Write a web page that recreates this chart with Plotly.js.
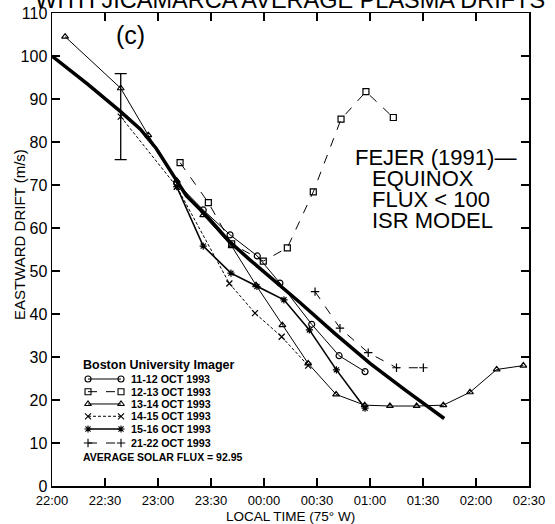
<!DOCTYPE html>
<html>
<head>
<meta charset="utf-8">
<script src="https://cdn.plot.ly/plotly-3.0.1.min.js"></script>
<style>html,body{margin:0;padding:0;background:#fff;}#chart{width:555px;height:524px;}</style>
</head>
<body>
<div id="chart"></div>
<script>
// x values: minutes after 22:00 local time (75° W)
const tickVals = [0, 30, 60, 90, 120, 150, 180, 210, 240, 270];
const tickText = ["22:00", "22:30", "23:00", "23:30", "00:00", "00:30", "01:00", "01:30", "02:00", "02:30"];

// Fejer (1991) equinox, flux < 100 ISR model
const modelT = [0, 20, 39, 50, 59, 66, 71, 76, 88, 100, 112, 129, 140, 160, 180, 200, 222];
const modelV = [100, 93.5, 87, 83, 78.5, 74, 71, 67.5, 62.6, 57, 52.6, 46.7, 42.8, 35.5, 28.5, 22.3, 15.7];

// Boston University Imager nights
const oct1112T = [70.6, 85.6, 100.8, 116.2, 129, 147, 162.5, 177.2];
const oct1112V = [70.5, 64.2, 58.4, 53.5, 47.2, 37.6, 30.3, 26.6];

const oct1213T = [72.5, 88.5, 101.7, 119.6, 133.2, 147.9, 163.6, 177.7, 193.2];
const oct1213V = [75.2, 65.9, 56.3, 52.3, 55.4, 68.4, 85.3, 91.7, 85.7];

const oct1314T = [7.4, 38.9, 54.5, 70.6, 85.6, 101.7, 115.5, 130.4, 145, 160.8, 177, 191.3, 206.4, 221.5, 236.6, 251.7, 266.8];
const oct1314V = [104.5, 92.5, 81.6, 71, 63, 55.8, 46.7, 37.4, 28.5, 21.3, 18.8, 18.6, 18.6, 18.8, 21.8, 27.1, 28];

const oct1415T = [38.9, 70.6, 100.4, 114.9, 130, 145];
const oct1415V = [85.9, 69.6, 47.1, 40.2, 34.7, 28];
const oct1415Err = [10];

const oct1516T = [70.6, 85.6, 101.3, 116, 131.3, 145.7, 161, 177.2];
const oct1516V = [69.6, 55.8, 49.5, 46.4, 43.3, 36.3, 27, 18.1];

const oct2122T = [148.9, 163, 179, 195, 210.2];
const oct2122V = [45.2, 36.7, 31, 27.5, 27.5];

const legendNames = ["11-12 OCT 1993", "12-13 OCT 1993", "13-14 OCT 1993", "14-15 OCT 1993", "15-16 OCT 1993", "21-22 OCT 1993"];

const styles = [
  {sym: "circle-open", dash: "solid", w: 1},
  {sym: "square-open", dash: "dash", w: 1},
  {sym: "triangle-up-open", dash: "solid", w: 1},
  {sym: "x-thin-open", dash: "3px,2px", w: 1},
  {sym: "asterisk-open", dash: "solid", w: 1.6},
  {sym: "cross-thin-open", dash: "dash", w: 1}
];
const seriesT = [oct1112T, oct1213T, oct1314T, oct1415T, oct1516T, oct2122T];
const seriesV = [oct1112V, oct1213V, oct1314V, oct1415V, oct1516V, oct2122V];

const FONT = "Liberation Sans, Arial, sans-serif";
const traces = [];
traces.push({x: modelT, y: modelV, mode: "lines", line: {color: "#000", width: 3.5}, showlegend: false, hoverinfo: "skip"});
for (let i = 0; i < seriesT.length; i++) {
  traces.push({
    x: seriesT[i], y: seriesV[i], mode: "lines+markers", showlegend: false,
    line: {color: "#000", width: styles[i].w, dash: styles[i].dash},
    marker: {symbol: styles[i].sym, size: 6, color: "#000", line: {color: "#000", width: 1.2}}
  });
}
// error bar on the 22:39 point of 14-15 OCT
traces.push({x: [oct1415T[0]], y: [oct1415V[0]], mode: "markers", showlegend: false,
  marker: {size: 1, opacity: 0},
  error_y: {type: "data", array: oct1415Err, symmetric: true, color: "#000", thickness: 1.3, width: 6}});

// legend samples drawn on a hidden unit axis pair
const legY = [0.2262, 0.1994, 0.1734, 0.1474, 0.1205, 0.0909];
for (let i = 0; i < 6; i++) {
  traces.push({
    x: [0.0755, 0.1447], y: [legY[i], legY[i]], xaxis: "x2", yaxis: "y2", mode: "lines+markers", showlegend: false,
    line: {color: "#000", width: styles[i].w, dash: styles[i].dash},
    marker: {symbol: styles[i].sym, size: 6, color: "#000", line: {color: "#000", width: 1.1}}
  });
}

function ann(text, x, y, size, xanchor, extra) {
  return Object.assign({text: text, xref: "paper", yref: "paper", x: x, y: y, xanchor: xanchor, yanchor: "middle",
    showarrow: false, font: {family: FONT, size: size, color: "#000"}}, extra || {});
}
const annotations = [
  ann("WITH JICAMARCA AVERAGE PLASMA DRIFTS", 0.499, 1.028, 23.5, "center"),
  ann("(c)", 0.164, 0.953, 25, "center"),
  ann("FEJER (1991)—", 0.631, 0.695, 22, "left"),
  ann("EQUINOX", 0.667, 0.651, 22, "left"),
  ann("FLUX &lt; 100", 0.667, 0.606, 22, "left"),
  ann("ISR MODEL", 0.667, 0.562, 22, "left"),
  ann("<b>Boston University Imager</b>", 0.0608, 0.2558, 12.5, "left"),
  ann("<b>AVERAGE SOLAR FLUX = 92.95</b>", 0.0608, 0.0620, 10.5, "left"),
  ann("EASTWARD DRIFT (m/s)", -0.067, 0.5307, 15, "center", {textangle: -90}),
  ann("LOCAL TIME (75° W)", 0.5, -0.0655, 13.5, "center")
];
for (let i = 0; i < 6; i++) {
  annotations.push(ann("<b>" + legendNames[i] + "</b>", 0.1614, legY[i], 10.7, "left"));
}

const layout = {
  width: 555, height: 524,
  margin: {l: 52, r: 26, t: 13, b: 38},
  paper_bgcolor: "#fff", plot_bgcolor: "#fff",
  showlegend: false,
  font: {family: FONT, color: "#000"},
  xaxis: {
    range: [0, 270], tickvals: tickVals, ticktext: tickText,
    ticks: "inside", ticklen: 8, tickwidth: 1.2, tickcolor: "#000",
    showline: true, linecolor: "#000", linewidth: 1.5, mirror: "ticks",
    showgrid: false, zeroline: false, ticklabelstandoff: 2,
    tickfont: {size: 13, family: FONT}
  },
  yaxis: {
    range: [0, 110], dtick: 10,
    ticks: "inside", ticklen: 8, tickwidth: 1.2, tickcolor: "#000",
    showline: true, linecolor: "#000", linewidth: 1.5, mirror: "ticks",
    showgrid: false, zeroline: false,
    tickfont: {size: 16, family: FONT}
  },
  xaxis2: {range: [0, 1], overlaying: "x", visible: false, fixedrange: true},
  yaxis2: {range: [0, 1], overlaying: "y", visible: false, fixedrange: true},
  annotations: annotations
};

Plotly.newPlot("chart", traces, layout, {displayModeBar: false, staticPlot: true});
</script>
</body>
</html>
